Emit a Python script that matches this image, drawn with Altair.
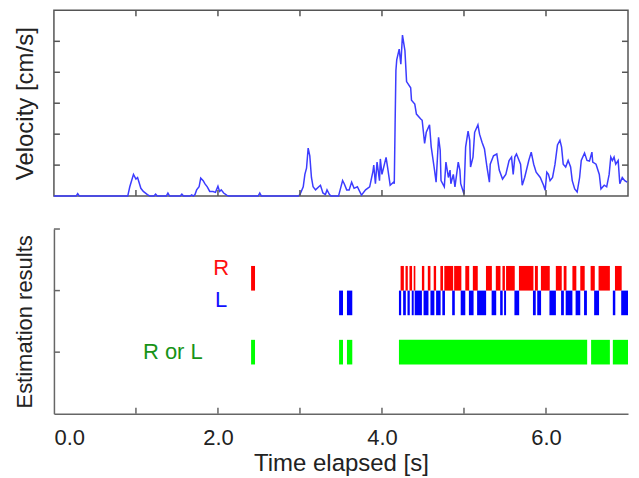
import altair as alt
import pandas as pd

# ---- velocity trace (time [s], velocity) ----
vel_t = [0.00, 0.27, 0.29, 0.31, 0.90, 0.925, 0.97, 1.00, 1.02, 1.06, 1.09, 1.14, 1.17,
         1.22, 1.24, 1.26, 1.37, 1.39, 1.41, 1.54, 1.56, 1.58, 1.66, 1.68, 1.70,
         1.72, 1.74, 1.77, 1.79, 1.82, 1.84, 1.87, 1.90, 1.94, 1.97, 2.00, 2.02, 2.04, 2.07, 2.11, 2.13,
         2.49, 2.51, 2.53,
         2.98, 3.00, 3.04, 3.06, 3.08, 3.10, 3.12, 3.14, 3.16, 3.19, 3.23, 3.25, 3.28, 3.31, 3.33, 3.36, 3.38,
         3.47, 3.49, 3.52, 3.54, 3.57, 3.60, 3.63, 3.66, 3.70, 3.75, 3.80, 3.85, 3.89, 3.90, 3.92, 3.94,
         3.97, 3.98, 4.00, 4.05, 4.07, 4.10, 4.12, 4.14,
         4.15, 4.16, 4.17, 4.18, 4.21, 4.23, 4.25, 4.28, 4.30, 4.35, 4.36, 4.40, 4.42, 4.47, 4.49, 4.52,
         4.54, 4.58, 4.60, 4.64, 4.66, 4.69, 4.71, 4.72, 4.76, 4.78, 4.81, 4.83, 4.84, 4.87, 4.89, 4.93,
         4.95, 4.96, 5.00, 5.02, 5.05, 5.07, 5.08, 5.11, 5.13, 5.17, 5.19, 5.22, 5.25, 5.28, 5.31, 5.32,
         5.36, 5.40, 5.43, 5.47, 5.51, 5.55, 5.58, 5.60, 5.62, 5.64, 5.69, 5.71, 5.74, 5.79, 5.82, 5.85,
         5.88, 5.93, 5.97, 5.99, 6.01, 6.03, 6.05, 6.08, 6.11, 6.14, 6.17, 6.19, 6.21, 6.24, 6.27, 6.30,
         6.32, 6.35, 6.38, 6.41, 6.43, 6.47, 6.50, 6.53, 6.56, 6.57, 6.61, 6.65, 6.67, 6.71, 6.74, 6.77,
         6.79, 6.81, 6.83, 6.85, 6.88, 6.90, 6.93, 6.96, 6.99]
vel_v = [0.00, 0.00, 0.08, 0.00, 0.00, 0.30, 0.70, 0.55, 0.60, 0.25, 0.15, 0.05, 0.00,
         0.00, 0.06, 0.00, 0.00, 0.10, 0.00, 0.00, 0.06, 0.00, 0.00, 0.04, 0.00,
         0.05, 0.20, 0.30, 0.58, 0.50, 0.40, 0.30, 0.15, 0.15, 0.12, 0.32, 0.15, 0.20, 0.10, 0.02, 0.00,
         0.00, 0.10, 0.00,
         0.00, 0.05, 0.30, 0.70, 0.90, 1.55, 1.30, 0.60, 0.30, 0.20, 0.30, 0.35, 0.10, 0.05, 0.20, 0.05, 0.00,
         0.00, 0.20, 0.50, 0.40, 0.20, 0.20, 0.45, 0.25, 0.30, 0.03, 0.20, 0.30, 0.80, 1.00, 0.40, 1.10,
         0.50, 1.20, 0.70, 1.25, 0.90, 0.35, 0.40, 0.45,
         0.40, 2.30, 4.06, 4.40, 4.75, 4.26, 5.20, 4.70, 3.70, 3.50, 3.10, 2.97, 2.65, 2.50, 2.45, 1.70,
         2.06, 2.30, 1.60, 0.85, 0.45, 1.90, 1.48, 0.50, 0.30, 1.10, 0.60, 0.84, 0.40, 0.70, 0.30, 1.10,
         0.84, 0.40, 0.07, 1.58, 2.10, 1.80, 0.94, 1.26, 2.06, 2.30, 2.00, 1.74, 1.52, 0.94, 0.45, 1.03,
         1.30, 1.36, 0.84, 0.55, 0.70, 1.15, 1.26, 0.70, 1.26, 1.36, 1.03, 0.35, 0.60, 1.15, 1.42, 1.03,
         0.77, 0.60, 0.35, 0.19, 0.77, 0.70, 0.50, 0.60, 1.03, 1.65, 1.80, 1.58, 1.03, 0.94, 1.15, 0.94,
         0.50, 0.23, 0.13, 0.60, 1.15, 1.39, 1.15, 1.13, 1.42, 1.10, 1.03, 0.70, 0.23, 0.35, 0.30, 0.70,
         1.26, 1.15, 1.26, 1.03, 1.15, 0.40, 0.60, 0.50, 0.45]

# ---- estimation results: start / end times [s] ----
r_start = [2.404, 4.227, 4.287, 4.335, 4.387, 4.487, 4.559, 4.631, 4.712, 4.760, 4.880, 5.016, 5.108,
           5.268, 5.388, 5.469, 5.513, 5.670, 5.865, 5.938, 6.120, 6.216, 6.322, 6.418, 6.544, 6.641, 6.841]
r_end = [2.452, 4.267, 4.315, 4.367, 4.407, 4.516, 4.591, 4.660, 4.744, 4.868, 4.968, 5.064, 5.168,
         5.340, 5.445, 5.499, 5.619, 5.847, 5.901, 6.046, 6.192, 6.250, 6.370, 6.472, 6.595, 6.779, 6.923]
l_start = [3.477, 3.573, 4.207, 4.258, 4.311, 4.363, 4.399, 4.507, 4.591, 4.660, 4.736, 4.856, 4.960,
           5.060, 5.160, 5.337, 5.441, 5.489, 5.615, 5.841, 5.893, 6.042, 6.184, 6.240, 6.361, 6.464,
           6.587, 6.815, 6.917]
l_end = [3.525, 3.638, 4.234, 4.291, 4.339, 4.387, 4.487, 4.567, 4.639, 4.715, 4.768, 4.888, 5.016,
         5.117, 5.270, 5.393, 5.472, 5.513, 5.673, 5.875, 5.940, 6.121, 6.218, 6.322, 6.418, 6.499,
         6.647, 6.845, 7.000]
g_start = [2.404, 3.477, 3.573, 4.207, 6.550, 6.815]
g_end = [2.452, 3.525, 3.638, 6.502, 6.779, 7.000]

row_labels = ["R", "L", "R or L"]

vel_ticks_x = [1, 2, 3, 4, 5, 6]
vel_ticks_y = [1, 2, 3, 4, 5]
est_ticks_y = [1, 2, 3]
time_labels = [0, 2, 4, 6]

FONT = "Liberation Sans"
W, H1, H2 = 575, 186, 185
AX = "#555555"

vel_df = pd.DataFrame({"t": vel_t, "v": vel_v})
xs = alt.Scale(domain=[0, 7], nice=False, zero=False)
vs = alt.Scale(domain=[0, 6], nice=False)
ys = alt.Scale(domain=[0, 3], nice=False)

vel_y_axis = alt.Axis(title="Velocity [cm/s]", labels=False, ticks=False, domain=False,
                      grid=False, titlePadding=16)
est_x_axis = alt.Axis(title="Time elapsed [s]", values=time_labels, format=".1f", labelFlush=True,
                      ticks=False, grid=False, domain=True, domainColor="#666666", domainWidth=1.5,
                      labelPadding=14, titlePadding=3, labelFontSize=22)
est_y_axis = alt.Axis(title="Estimation results", labels=False, ticks=False, grid=False, domain=True,
                      domainColor="#666666", domainWidth=1.5, titlePadding=17, titleFontSize=22)

line = alt.Chart(vel_df).mark_line(color="#3c3cff", strokeWidth=1.5, interpolate="linear").encode(
    x=alt.X("t:Q", scale=xs, axis=None),
    y=alt.Y("v:Q", scale=vs, axis=vel_y_axis),
)
tx = pd.DataFrame({"t": vel_ticks_x})
ty = pd.DataFrame({"v": vel_ticks_y})
top_ticks = alt.Chart(tx).mark_rule(color=AX, strokeWidth=1.5).encode(
    x=alt.X("t:Q", scale=xs, axis=None), y=alt.value(0), y2=alt.value(6))
bot_ticks = alt.Chart(tx).mark_rule(color=AX, strokeWidth=1.5).encode(
    x=alt.X("t:Q", scale=xs, axis=None), y=alt.value(H1 - 6), y2=alt.value(H1))
left_ticks = alt.Chart(ty).mark_rule(color=AX, strokeWidth=1.5).encode(
    y=alt.Y("v:Q", scale=vs, axis=vel_y_axis), x=alt.value(0), x2=alt.value(6))
right_ticks = alt.Chart(ty).mark_rule(color=AX, strokeWidth=1.5).encode(
    y=alt.Y("v:Q", scale=vs, axis=vel_y_axis), x=alt.value(W - 6), x2=alt.value(W))

top = alt.layer(line, top_ticks, bot_ticks, left_ticks, right_ticks).properties(
    width=W, height=H1,
    view=alt.ViewBackground(stroke=AX, strokeWidth=1.5, strokeOpacity=1),
)


def seg_chart(starts, ends, color, lo, hi):
    df = pd.DataFrame({"s": starts, "e": ends})
    return alt.Chart(df).transform_calculate(lo=str(lo), hi=str(hi)).mark_rect(color=color).encode(
        x=alt.X("s:Q", scale=xs, axis=est_x_axis), x2="e:Q",
        y=alt.Y("lo:Q", scale=ys, axis=est_y_axis), y2="hi:Q")


r_bars = seg_chart(r_start, r_end, "#ff0000", 2.0, 2.4)
l_bars = seg_chart(l_start, l_end, "#0000ff", 1.6, 2.0)
g_bars = seg_chart(g_start, g_end, "#00ff00", 0.8, 1.2)

ety = pd.DataFrame({"y": est_ticks_y})
est_left = alt.Chart(ety).mark_rule(color="#666666", strokeWidth=1.5).encode(
    y=alt.Y("y:Q", scale=ys, axis=est_y_axis), x=alt.value(0), x2=alt.value(6))
est_bot = alt.Chart(tx).mark_rule(color="#666666", strokeWidth=1.5).encode(
    x=alt.X("t:Q", scale=xs, axis=est_x_axis), y=alt.value(H2 - 6), y2=alt.value(H2))


def label(text, color, tx_, ty_):
    return alt.Chart(pd.DataFrame({"lab": [text]})).mark_text(
        color=color, fontSize=22, font=FONT, align="center", baseline="middle").encode(
        x=alt.datum(tx_), y=alt.datum(ty_), text="lab:N")


lab_r = label(row_labels[0], "#ff1010", 2.04, 2.37)
lab_l = label(row_labels[1], "#1010ff", 2.04, 1.84)
lab_g = label(row_labels[2], "#179317", 1.45, 1.0)

bottom = alt.layer(r_bars, l_bars, g_bars, est_left, est_bot, lab_r, lab_l, lab_g).properties(
    width=W, height=H2,
    view=alt.ViewBackground(strokeOpacity=0),
)

chart = alt.vconcat(top, bottom, spacing=28).properties(
    padding={"left": 5, "top": 0, "right": 0, "bottom": 0},
    background="white",
).configure_axis(
    labelFont=FONT, titleFont=FONT, labelFontSize=24, titleFontSize=24,
    titleFontWeight="normal", labelColor="#222222", titleColor="#222222",
)

chart.save("out.html", embed_options={"renderer": "svg", "actions": False})
